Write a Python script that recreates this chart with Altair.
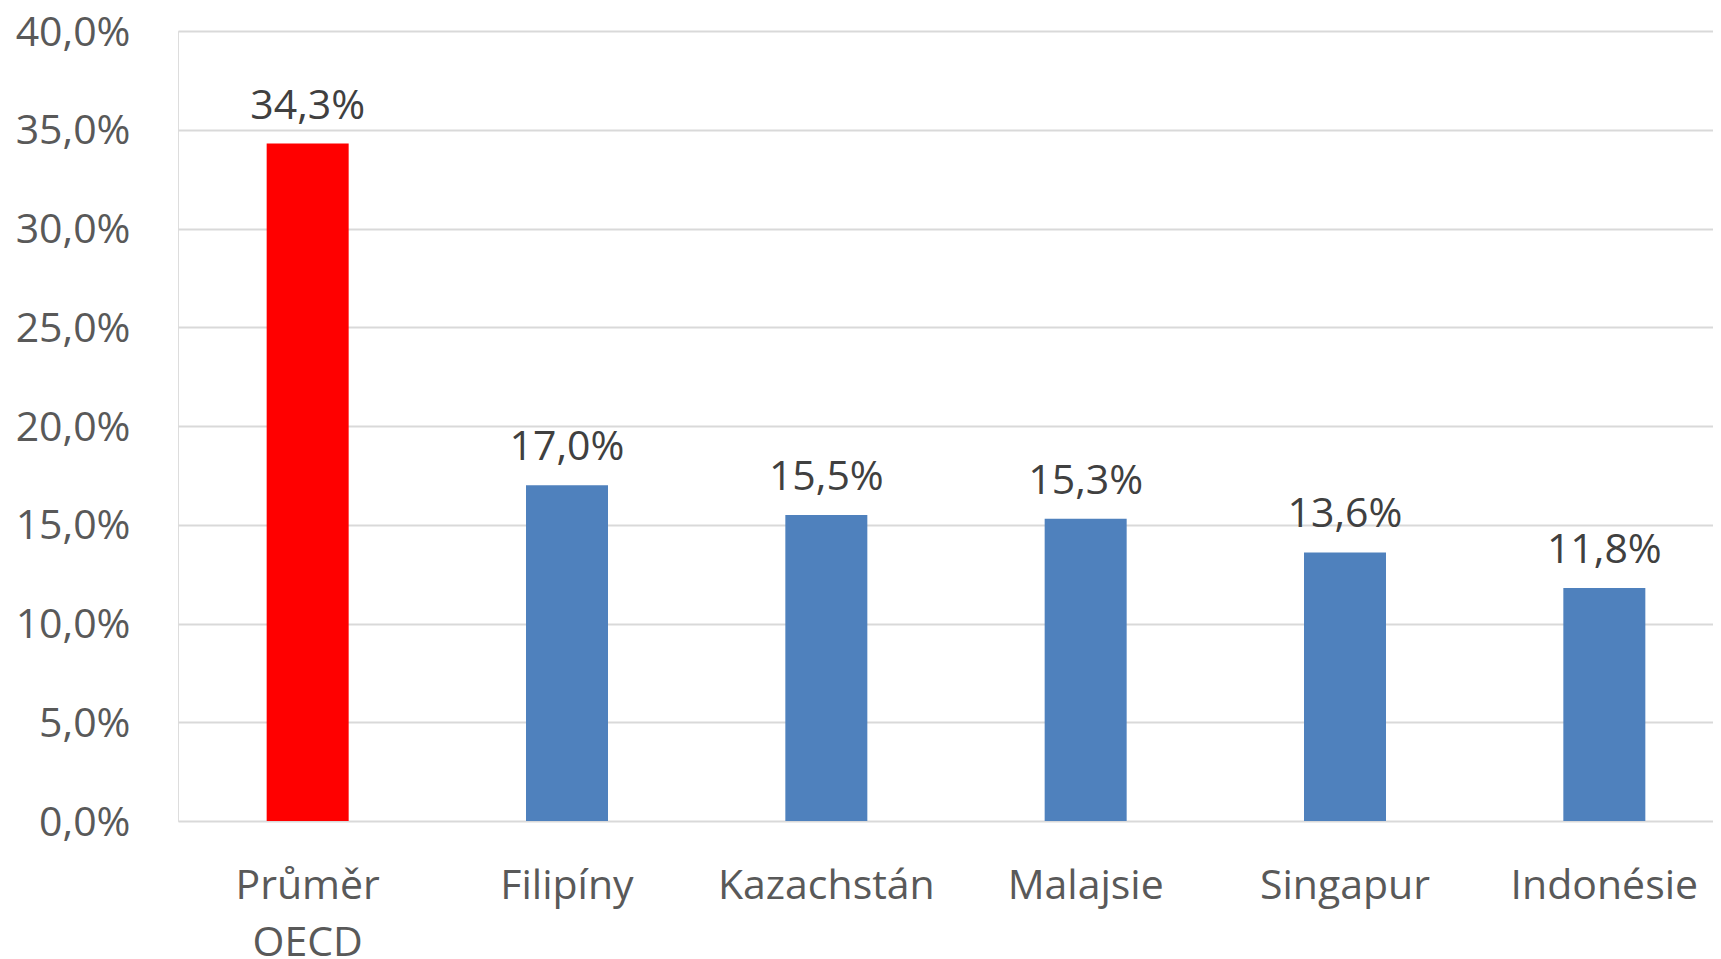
import altair as alt
import pandas as pd

categories = ["Průměr OECD", "Filipíny", "Kazachstán", "Malajsie", "Singapur", "Indonésie"]
values = [34.3, 17.0, 15.5, 15.3, 13.6, 11.8]
bar_colors = ["#FF0000", "#4F81BD", "#4F81BD", "#4F81BD", "#4F81BD", "#4F81BD"]
y_ticks = [0, 5, 10, 15, 20, 25, 30, 35, 40]

df = pd.DataFrame({
    "kategorie": categories,
    "hodnota": values,
    "barva": bar_colors,
    "popisek": [f"{v:.1f}".replace(".", ",") + "%" for v in values],
})

FONT = "Open Sans"

x_enc = alt.X(
    "kategorie:N",
    sort=categories,
    scale=alt.Scale(range=[0, 1556], paddingInner=0, paddingOuter=0),
    axis=alt.Axis(
        title=None,
        labelAngle=0,
        ticks=False,
        domain=False,
        grid=False,
        labelFont=FONT,
        labelFontSize=41,
        labelColor="#595959",
        labelPadding=45,
        labelLineHeight=57,
        labelLimit=0,
        labelExpr="split(datum.label, ' ')",
    ),
)

y_enc = alt.Y(
    "hodnota:Q",
    scale=alt.Scale(domain=[0, 40], nice=False),
    axis=alt.Axis(
        title=None,
        values=y_ticks,
        ticks=False,
        domain=False,
        grid=True,
        gridColor="#D9D9D9",
        gridWidth=2,
        labelFont=FONT,
        labelFontSize=41,
        labelColor="#595959",
        labelPadding=48,
        labelOffset=2,
        labelLimit=0,
        labelExpr="replace(format(datum.value, '.1f'), '.', ',') + '%'",
    ),
)

bars = alt.Chart(df).mark_bar(size=82).encode(
    x=x_enc,
    y=y_enc,
    color=alt.Color("barva:N", scale=None),
)

labels = alt.Chart(df).mark_text(
    font=FONT, fontSize=41, color="#404040", baseline="alphabetic", align="center", dy=-25
).encode(
    x=alt.X("kategorie:N", sort=categories),
    y=alt.Y("hodnota:Q"),
    text="popisek:N",
)

chart = (
    alt.layer(bars, labels)
    .properties(
        width=1535,
        height=790,
        autosize=alt.AutoSizeParams(type="none"),
        padding={"left": 170, "top": 23, "right": 0, "bottom": 146},
    )
    .configure_view(stroke=None)
    .configure(background="white")
)

chart.save("out.html", embed_options={"renderer": "svg", "actions": False})
